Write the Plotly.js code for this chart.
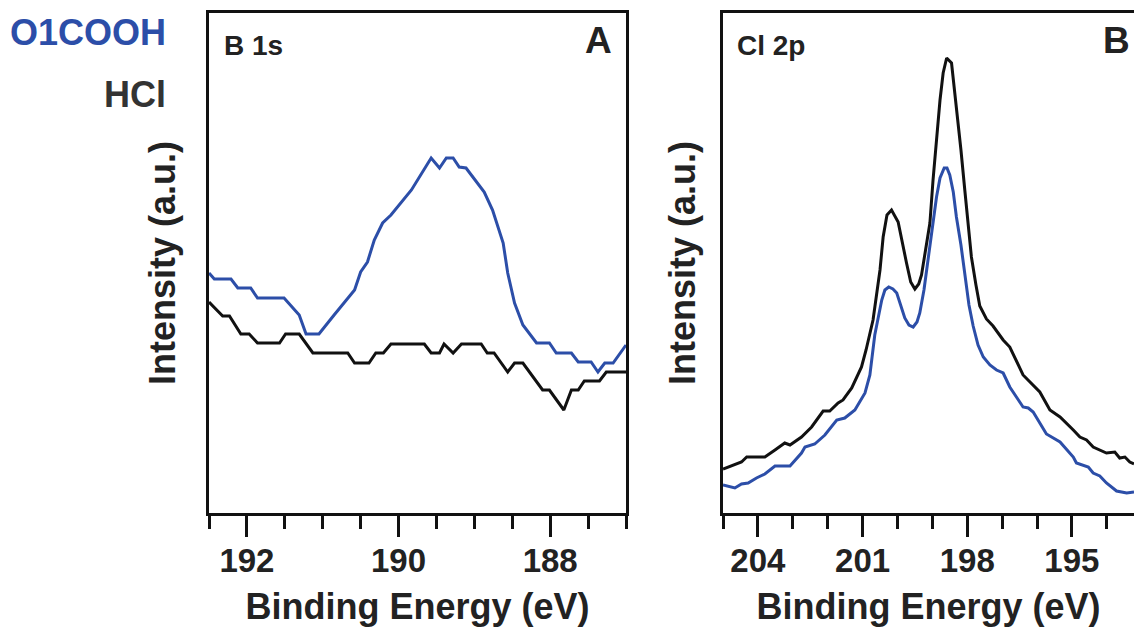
<!DOCTYPE html>
<html><head><meta charset="utf-8">
<script src="https://cdn.plot.ly/plotly-3.0.1.min.js"></script>
<style>html,body{margin:0;padding:0;background:#fff;} #chart{width:1134px;height:627px;}</style>
</head><body><div id="chart"></div>
<script>
// Panel A: B 1s
const b1sEnergyO1COOH = [192.50,192.43,192.21,192.12,191.95,191.86,191.51,191.31,191.22,191.05,190.85,190.58,190.50,190.41,190.32,190.21,190.10,189.83,189.57,189.46,189.37,189.28,189.20,189.11,188.87,188.76,188.62,188.56,188.47,188.36,188.18,188.01,187.92,187.72,187.63,187.46,187.37,187.28,187.17,187.00];
const b1sIntensityO1COOH = [240,234,234,225,225,215,215,198,179,179,198,223,241,251,273,290,298,323,355,345,355,355,346,345,321,303,270,240,210,188,170,170,160,160,151,151,141,150,150,168];
const b1sEnergyHCl = [192.50,192.32,192.23,192.08,191.97,191.86,191.57,191.49,191.31,191.13,190.67,190.58,190.39,190.30,190.20,190.10,189.66,189.57,189.46,189.40,189.28,189.17,188.91,188.83,188.74,188.56,188.47,188.36,188.10,188.01,187.82,187.72,187.63,187.55,187.35,187.26,187.00];
const b1sIntensityHCl = [211,197,197,179,179,170,170,179,179,160,160,150,150,160,160,169,169,160,160,169,160,169,169,160,160,141,150,150,123,123,103,123,123,132,132,141,141];

// Panel B: Cl 2p
const cl2pEnergyHCl = [205.00,204.71,204.47,204.32,203.80,203.51,203.23,203.08,202.75,202.46,202.13,201.94,201.70,201.56,201.31,201.03,200.90,200.70,200.50,200.41,200.30,200.17,199.98,199.74,199.62,199.50,199.39,199.31,199.19,199.07,198.98,198.88,198.78,198.69,198.59,198.45,198.31,198.18,198.07,197.97,197.88,197.75,197.64,197.45,197.26,196.97,196.78,196.40,196.25,196.01,195.92,195.63,195.34,194.96,194.77,194.58,194.39,194.01,193.77,193.63,193.48,193.34,193.22];
const cl2pIntensityHCl = [44,48,51,56,56,63,70,68,76,86,102,102,110,113,125,146,163,193,243,276,298,303,291,250,231,224,229,238,263,290,333,373,413,440,455,450,406,363,323,288,256,228,207,194,187,173,166,138,133,125,121,103,96,83,76,73,66,60,61,55,56,51,49];
const cl2pEnergyO1COOH = [205.00,204.66,204.47,204.28,204.04,203.80,203.51,203.08,202.75,202.65,202.37,202.08,201.74,201.51,201.22,200.93,200.79,200.65,200.45,200.36,200.25,200.13,200.02,199.90,199.79,199.67,199.55,199.44,199.36,199.24,199.12,199.00,198.88,198.78,198.66,198.58,198.50,198.40,198.31,198.18,198.07,197.95,197.83,197.69,197.54,197.35,197.16,196.97,196.78,196.40,196.25,196.11,195.73,195.44,195.34,194.96,194.87,194.53,194.39,194.20,194.01,193.72,193.43,193.22];
const cl2pIntensityO1COOH = [28,25,29,30,35,39,47,47,60,66,69,78,93,95,103,120,138,178,213,223,226,224,220,208,195,188,186,191,200,223,256,288,316,335,345,345,338,321,296,268,240,208,187,168,156,148,143,140,126,106,105,101,79,73,71,56,50,46,40,37,30,22,20,21];

const seriesNames = ['O1COOH', 'HCl'];
const panelLabels = ['B 1s', 'Cl 2p'];
const panelLetters = ['A', 'B'];
const xTitle = 'Binding Energy (eV)';
const yTitle = 'Intensity (a.u.)';

const BLUE = '#2c4ea8', BLACK = '#111111', TXT = '#222222';
const FONT = 'Liberation Sans, Arial, Helvetica, sans-serif';
const W = 1134, H = 627;
const px = v => v / W, py = v => 1 - v / H;

const traces = [
  {x: b1sEnergyO1COOH, y: b1sIntensityO1COOH, xaxis: 'x', yaxis: 'y', name: seriesNames[0], mode: 'lines', line: {color: BLUE, width: 3}},
  {x: b1sEnergyHCl, y: b1sIntensityHCl, xaxis: 'x', yaxis: 'y', name: seriesNames[1], mode: 'lines', line: {color: BLACK, width: 3}},
  {x: cl2pEnergyHCl, y: cl2pIntensityHCl, xaxis: 'x2', yaxis: 'y2', name: seriesNames[1], mode: 'lines', line: {color: BLACK, width: 3}},
  {x: cl2pEnergyO1COOH, y: cl2pIntensityO1COOH, xaxis: 'x2', yaxis: 'y2', name: seriesNames[0], mode: 'lines', line: {color: BLUE, width: 3}}
];

const yDom = [py(513), py(13)];
const tickFont = {family: FONT, size: 33, color: TXT, weight: 700};
const titleFont = {family: FONT, size: 36, color: TXT, weight: 700};
function xAxis(dom, range, dtick, minor) {
  return {
    domain: dom, range: range,
    showline: true, linecolor: BLACK, linewidth: 3, mirror: true,
    ticks: 'outside', ticklen: 21, tickwidth: 3, tickcolor: BLACK, ticklabelstandoff: -5,
    dtick: dtick, tick0: 0, tickfont: tickFont, showgrid: false, zeroline: false,
    minor: {dtick: minor, tick0: 0, ticks: 'outside', ticklen: 13, tickwidth: 3, tickcolor: BLACK, showgrid: false},
    title: {text: xTitle, font: titleFont, standoff: 22},
    fixedrange: true
  };
}
function yAxis(mirror, standoff) {
  return {
    domain: yDom, range: [0, 500], showline: true, linecolor: BLACK, linewidth: 3, mirror: mirror,
    ticks: '', showticklabels: false, showgrid: false, zeroline: false,
    title: {text: yTitle, font: titleFont, standoff: standoff}, fixedrange: true
  };
}

const xa = xAxis([px(209), px(626)], [192.5, 187.0], 2, 0.5); xa.anchor = 'y';
const xb = xAxis([px(723), 1], [205.0, 193.22], 3, 1); xb.anchor = 'y2';
const ya = yAxis(true, 20); ya.anchor = 'x';
const yb = yAxis(false, 14); yb.anchor = 'x2';

const ann = (text, x, y, size, color, xanchor) => ({
  text: text, xref: 'paper', yref: 'paper', x: px(x), y: py(y), xanchor: xanchor, yanchor: 'middle',
  showarrow: false, font: {family: FONT, size: size, color: color, weight: 700}
});

const layout = {
  width: W, height: H, margin: {l: 0, r: 0, t: 0, b: 0},
  paper_bgcolor: '#fff', plot_bgcolor: '#fff', showlegend: false,
  font: {family: FONT},
  xaxis: xa, yaxis: ya, xaxis2: xb, yaxis2: yb,
  annotations: [
    ann(seriesNames[0], 168, 32, 36, BLUE, 'right'),
    ann(seriesNames[1], 168, 94, 36, '#333333', 'right'),
    ann(panelLabels[0], 222, 45, 28, TXT, 'left'),
    ann(panelLabels[1], 735, 45, 28, TXT, 'left'),
    ann(panelLetters[0], 598, 41, 37, TXT, 'center'),
    ann(panelLetters[1], 1116, 41, 37, TXT, 'center')
  ]
};

Plotly.newPlot('chart', traces, layout, {staticPlot: true, displayModeBar: false});
</script>
</body></html>
